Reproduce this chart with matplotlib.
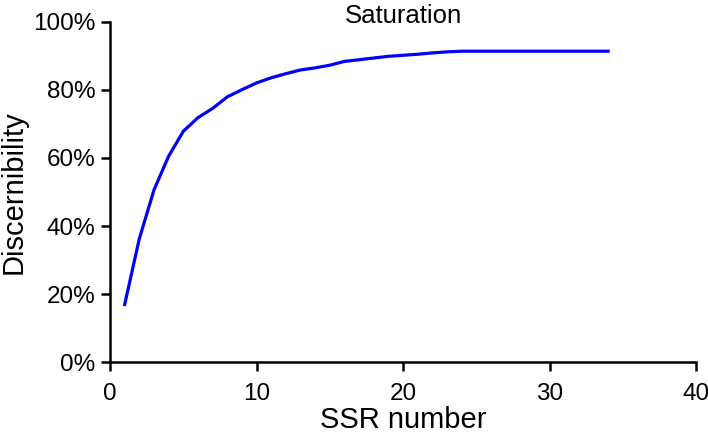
import numpy as np
import matplotlib
matplotlib.use('Agg')
import matplotlib.pyplot as plt
from matplotlib.ticker import PercentFormatter

plt.rcParams['font.family'] = ['Liberation Sans', 'DejaVu Sans']

# SSR number vs discernibility (%)
ssr_number = list(range(1, 35))
discernibility = [17.0, 36.3, 50.6, 60.5, 67.8, 71.8, 74.5, 77.9, 80.0, 82.0,
                  83.5, 84.7, 85.8, 86.4, 87.2, 88.3, 88.8, 89.3, 89.8, 90.1,
                  90.4, 90.8, 91.1, 91.3, 91.3, 91.3, 91.3, 91.3, 91.3, 91.3,
                  91.3, 91.3, 91.3, 91.3]

fig = plt.figure(figsize=(7.08, 4.36), dpi=100)
ax = fig.add_axes([0.1554, 0.1686, 0.8277, 0.782])

ax.plot(ssr_number, discernibility, color='#0000ff', lw=2.3)

ax.set_xlim(0, 40)
ax.set_ylim(0, 100)
ax.set_xticks([0, 10, 20, 30, 40])
ax.set_yticks([0, 20, 40, 60, 80, 100])
ax.yaxis.set_major_formatter(PercentFormatter(decimals=0))

for s in ['top', 'right']:
    ax.spines[s].set_visible(False)
for s in ['left', 'bottom']:
    ax.spines[s].set_linewidth(1.8)
ax.tick_params(direction='out', length=6.5, width=1.8, labelsize=17.5)
ax.tick_params(axis='x', pad=8)
ax.tick_params(axis='y', pad=4)

# title sits right on the top of the axes, as in the original
ax.text(0.5, 0.997, 'Saturation', transform=ax.transAxes, ha='center',
        va='baseline', fontsize=18.5)
ax.set_xlabel('SSR number', fontsize=21, labelpad=1)
ax.set_ylabel('Discernibility', fontsize=21, labelpad=4)

fig.savefig('out.png', dpi=100)
